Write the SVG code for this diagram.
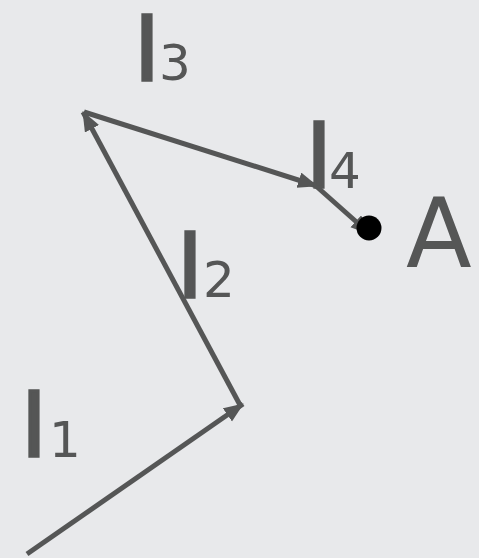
<svg xmlns="http://www.w3.org/2000/svg" width="479" height="558" viewBox="0 0 479 558">
<style>
.vec{stroke:#555656;stroke-width:5;fill:none;marker-end:url(#ah)}
.l{font-family:"DejaVu Sans",sans-serif;font-size:86px;fill:#555656;stroke:#555656;stroke-width:3.5}
.sub{font-family:"DejaVu Sans",sans-serif;font-size:50px;fill:#555656}
.big{font-family:"DejaVu Sans",sans-serif;font-size:96px;fill:#555656}
</style>
<defs>
<marker id="ah" markerUnits="userSpaceOnUse" markerWidth="22" markerHeight="18" refX="19" refY="8" orient="auto">
<path d="M0,0 L20,8 L0,16 Z" fill="#555656"/>
</marker>
</defs>
<rect width="479" height="558" fill="#e8e9eb"/>
<g id="connectors">
<line class="vec" x1="27" y1="554" x2="243" y2="404"/>
<line class="vec" x1="240" y1="405" x2="83" y2="112"/>
<line class="vec" x1="84" y1="112" x2="317" y2="186"/>
<line class="vec" x1="316" y1="186" x2="370" y2="234"/>
</g>
<g id="pointA">
<circle cx="369" cy="228" r="12.5" fill="#000"/>
<text class="big" x="406" y="267">A</text>
</g>
<g id="l1"><text x="22" y="456"><tspan class="l">l</tspan><tspan class="sub" x="49" y="457">1</tspan></text></g>
<g id="l2"><text x="178" y="297"><tspan class="l">l</tspan><tspan class="sub" x="203" y="297">2</tspan></text></g>
<g id="l3"><text x="135" y="80"><tspan class="l">l</tspan><tspan class="sub" x="159" y="80">3</tspan></text></g>
<g id="l4"><text x="307" y="187"><tspan class="l">l</tspan><tspan class="sub" x="329" y="188">4</tspan></text></g>
</svg>
